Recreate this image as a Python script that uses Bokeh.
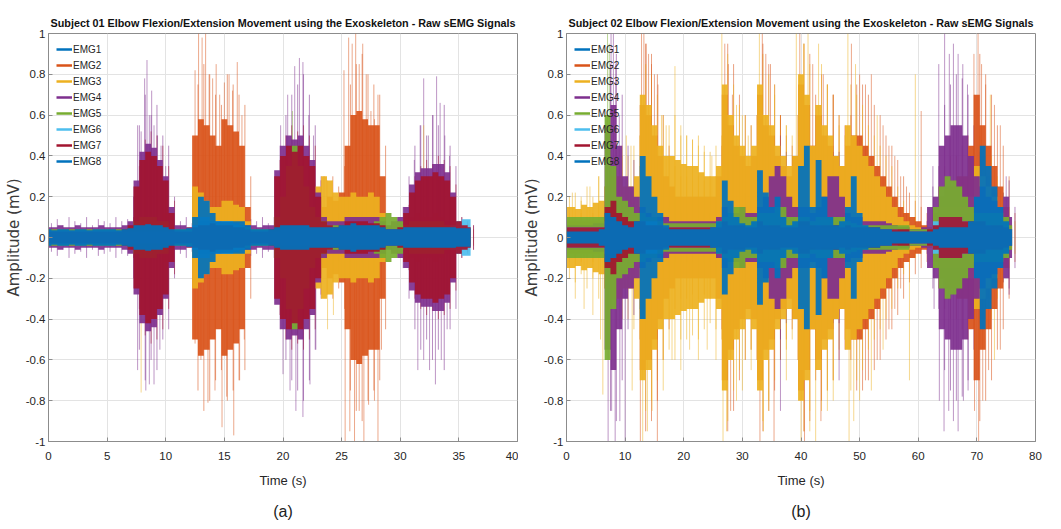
import numpy as np
from bokeh.plotting import figure
from bokeh.models import (Range1d, FixedTicker, CustomJSTickFormatter, Legend,
                          LegendItem, Title, ColumnDataSource)
from bokeh.layouts import row
from bokeh.embed import file_html
from bokeh.resources import INLINE

channels = ["EMG1", "EMG2", "EMG3", "EMG4", "EMG5", "EMG6", "EMG7", "EMG8"]
colors = ["#0072BD", "#D95319", "#EDB120", "#7E2F8E", "#77AC30", "#4DBEEE", "#A2142F", "#0072BD"]

y_ticks = [-1, -0.8, -0.6, -0.4, -0.2, 0, 0.2, 0.4, 0.6, 0.8, 1]
x_ticks_a = [0, 5, 10, 15, 20, 25, 30, 35, 40]
x_ticks_b = [0, 10, 20, 30, 40, 50, 60, 70, 80]

# ---------------- Subject 01 : dense-signal envelope (mV), every 0.5 s from 0 to 36 s
s1_step = 0.5
s1_emg1 = [.03,.03,.03,.03,.03,.03,.03,.03,.03,.03, .03,.03,.03,.03,.03,.05,.05,.05,.05,.05,
           .04,.03,.03,.03,.03,.08,.15,.14,.1,.07, .07,.07,.06,.06,.04,.03,.03,.03,.03,.04,
           .05,.05,.05,.05,.05,.04,.04,.04,.04,.04, .04,.05,.05,.05,.05,.05,.05,.04,.03,.03,
           .03,.03,.04,.04,.04,.04,.04,.04,.04,.04, .03,.03,.03]
s1_emg2 = [.02,.02,.02,.02,.02,.02,.02,.02,.02,.02, .02,.02,.02,.02,.03,.05,.06,.06,.06,.05,
           .05,.03,.02,.02,.03,.5,.58,.55,.5,.45, .58,.55,.52,.45,.15,.03,.02,.02,.02,.05,
           .08,.1,.12,.1,.1,.08,.1,.15,.2,.18, .22,.45,.6,.62,.58,.55,.55,.3,.05,.04,
           .04,.05,.06,.06,.06,.06,.06,.06,.05,.04, .03,.03,.03]
s1_emg3 = [.02,.02,.02,.02,.02,.02,.02,.02,.02,.02, .02,.02,.02,.02,.04,.08,.08,.1,.08,.08,
           .12,.05,.02,.02,.05,.25,.22,.18,.15,.15, .18,.18,.16,.15,.08,.03,.02,.02,.02,.05,
           .1,.1,.12,.1,.12,.1,.25,.3,.28,.22, .2,.2,.22,.2,.2,.22,.2,.12,.05,.04,
           .04,.06,.1,.12,.1,.1,.12,.1,.08,.05, .03,.03,.03]
s1_emg4 = [.05,.05,.06,.05,.05,.06,.05,.05,.05,.06, .05,.05,.05,.06,.08,.28,.42,.46,.44,.38,
           .3,.15,.06,.06,.05,.06,.08,.08,.08,.08, .07,.07,.07,.06,.06,.06,.05,.06,.06,.33,
           .45,.5,.48,.5,.45,.38,.22,.1,.08,.08, .08,.1,.1,.1,.1,.1,.1,.08,.06,.08,
           .1,.15,.26,.32,.34,.34,.36,.36,.32,.22, .08,.05,.05]
s1_emg5 = [.04,.04,.04,.04,.04,.04,.04,.04,.04,.04, .04,.04,.04,.04,.05,.08,.1,.1,.1,.08,
           .08,.04,.04,.04,.04,.05,.06,.06,.06,.06, .06,.06,.06,.06,.05,.04,.04,.04,.04,.1,
           .2,.35,.45,.35,.25,.15,.1,.08,.06,.06, .06,.06,.06,.06,.06,.06,.08,.1,.12,.1,
           .08,.06,.08,.08,.08,.08,.08,.08,.06,.05, .04,.04,.04]
s1_emg6 = [.03,.03,.03,.03,.03,.03,.03,.03,.03,.03, .03,.03,.03,.03,.03,.03,.03,.03,.03,.03,
           .03,.03,.03,.03,.03,.06,.1,.1,.08,.08, .08,.08,.07,.06,.04,.03,.03,.03,.03,.03,
           .04,.04,.04,.04,.04,.04,.04,.04,.04,.04, .04,.04,.04,.04,.04,.04,.04,.04,.04,.04,
           .04,.04,.04,.04,.04,.04,.05,.05,.05,.06, .08,.09,.09]
s1_emg7 = [.03,.03,.03,.03,.03,.03,.03,.03,.03,.03, .03,.03,.03,.04,.06,.25,.38,.42,.4,.35,
           .28,.12,.03,.03,.03,.05,.06,.06,.07,.06, .06,.06,.05,.05,.04,.03,.03,.03,.04,.3,
           .4,.45,.42,.45,.4,.35,.2,.08,.06,.05, .06,.08,.08,.08,.08,.07,.07,.06,.04,.04,
           .05,.12,.22,.28,.3,.3,.32,.3,.28,.2, .08,.06,.05]
s1_emg8 = [.04,.035,.04,.04,.035,.04,.04,.035,.04,.04, .04,.04,.035,.04,.045,.06,.06,.065,.06,.06,
           .05,.04,.04,.04,.045,.1,.2,.18,.12,.08, .08,.08,.08,.08,.06,.04,.04,.04,.04,.05,
           .06,.06,.06,.06,.06,.05,.05,.05,.05,.05, .06,.06,.07,.06,.06,.06,.06,.05,.04,.04,
           .04,.05,.05,.05,.05,.05,.05,.05,.05,.05, .045,.045,.045]

# spike heights between the envelope samples (mV) for the dominant channels
s1_peak = {
    2: [.03,.03,.03,.03,.03,.03,.03,.03,.03,.03, .03,.03,.03,.03,.04,.06,.08,.08,.07,.06,
        .06,.04,.03,.03,.05,.75,.85,.8,.7,.65, .8,.75,.7,.65,.3,.04,.03,.03,.03,.08,
        .12,.15,.18,.15,.15,.12,.18,.28,.3,.25, .35,.75,.85,.9,.8,.75,.7,.45,.07,.05,
        .05,.07,.08,.1,.08,.08,.1,.08,.07,.05, .04,.04,.04],
    4: [.07,.09,.06,.1,.08,.07,.1,.06,.09,.08, .07,.1,.08,.09,.2,.55,.7,.6,.65,.5,
        .45,.2,.08,.1,.07,.08,.1,.09,.1,.08, .09,.08,.1,.07,.09,.08,.1,.07,.1,.45,
        .6,.7,.75,.8,.7,.55,.3,.15,.1,.12, .1,.12,.1,.12,.1,.12,.1,.1,.08,.1,
        .15,.3,.45,.55,.5,.6,.55,.65,.45,.35, .1,.07,.06],
    7: [.04,.04,.04,.04,.04,.04,.04,.04,.04,.04, .04,.04,.04,.05,.1,.35,.48,.52,.5,.45,
        .35,.18,.04,.04,.04,.07,.08,.08,.09,.08, .08,.08,.07,.07,.05,.04,.04,.04,.05,.38,
        .5,.55,.52,.55,.5,.45,.28,.1,.08,.07, .08,.1,.1,.1,.1,.09,.09,.08,.05,.05,
        .07,.16,.3,.35,.38,.36,.4,.38,.35,.26, .1,.08,.06],
}

# individual tall spikes of subject 01 (time s, amplitude mV, channel number)
s1_spike_t = [7.6, 7.9, 8.2, 8.4, 8.6, 8.8, 9.0, 9.3, 9.6, 10.0, 7.6, 7.9, 8.3, 8.6, 9.0, 9.5,
              12.5, 12.8, 13.1, 13.4, 13.7, 14.0, 14.3, 14.6, 15.0, 15.4, 15.7, 16.1, 16.5,
              12.5, 13.0, 13.6, 14.2, 14.8, 15.2, 15.8, 16.3, 16.7,
              19.8, 20.4, 21.0, 21.4, 21.7, 22.2, 22.6, 20.8, 20.0, 20.6, 21.1, 21.7, 22.3, 22.8,
              23.5, 24.2, 23.8, 24.3,
              25.2, 25.6, 25.9, 26.2, 26.5, 26.8, 27.1, 27.5, 27.8, 28.1,
              25.3, 25.7, 26.1, 26.5, 26.9, 27.3, 27.8, 28.1, 28.4,
              31.2, 31.7, 32.0, 32.4, 32.8, 33.1, 33.4, 33.8, 34.2, 32.0,
              31.5, 32.0, 32.5, 33.0, 33.5, 34.0]
s1_spike_v = [.55, .52, .78, .87, .6, .72, .55, .5, .45, .35, -.65, -.76, -.75, -.72, -.72, -.55,
              .82, 1.0, .98, 1.0, .8, .78, .85, .7, .76, .8, .72, .86, .6,
              -.52, -.6, -.81, -.75, -.93, -.78, -.97, -.7, -.5,
              .55, .7, .84, .88, .86, .6, .5, .62, -.67, -.75, -.85, -.88, -.72, -.55,
              .3, .28, -.45, -.38,
              .82, .98, .95, 1.0, .85, .95, .8, .62, .58, .7,
              -1.0, -.95, -1.0, -.85, -1.0, -.82, -.8, -1.0, -.55,
              .38, .55, .78, .5, .6, .79, .66, .5, .4, .55,
              -.65, -.6, -.65, -.72, -.6, -.45]
s1_spike_ch = [4, 4, 4, 4, 4, 4, 4, 4, 4, 4, 4, 3, 4, 4, 4, 4,
               2, 2, 2, 2, 2, 2, 2, 2, 2, 2, 2, 2, 2,
               2, 2, 2, 2, 2, 2, 2, 2, 2,
               4, 4, 4, 4, 4, 4, 4, 5, 4, 4, 4, 4, 4, 4,
               2, 3, 3, 3,
               2, 2, 2, 2, 2, 2, 2, 2, 2, 2,
               2, 2, 2, 2, 2, 2, 2, 2, 2,
               4, 4, 4, 4, 4, 4, 4, 4, 4, 3,
               4, 4, 4, 4, 4, 4]

# ---------------- Subject 02 : dense-signal envelope (mV), every 1 s from 0 to 76 s
s2_step = 1.0
s2_emg1 = [.03,.03,.03,.03,.03,.03,.03,.1,.08,.07, .05,.05,.07,.35,.25,.18,.1,.05,.04,.04,
           .04,.04,.04,.04,.04,.04,.06,.25,.15,.08, .06,.05,.07,.3,.2,.14,.18,.08,.05,.07,
           .3,.4,.12,.33,.18,.08,.05,.07,.12,.25, .1,.05,.04,.04,.04,.03,.03,.03,.03,.03,
           .03,.03,.03,.03,.04,.04,.04,.04,.04,.07, .18,.4,.3,.22,.12,.07,.04]
s2_emg2 = [.08,.08,.08,.08,.08,.08,.08,.15,.15,.12, .1,.1,.12,.65,.6,.5,.4,.3,.25,.2,
           .2,.2,.2,.2,.2,.2,.3,.7,.55,.45, .4,.35,.4,.7,.55,.5,.4,.35,.3,.4,
           .75,.65,.45,.6,.5,.45,.4,.35,.45,.5, .5,.45,.4,.35,.3,.25,.2,.15,.12,.1,
           .08,.06,.05,.12,.2,.25,.25,.3,.3,.45, .7,.55,.45,.35,.25,.15,.06]
s2_emg3 = [.15,.15,.14,.16,.15,.17,.18,.25,.3,.3, .25,.25,.3,.7,.65,.55,.45,.4,.4,.38,
           .36,.35,.35,.32,.3,.3,.35,.75,.6,.5, .45,.4,.45,.75,.6,.55,.45,.4,.35,.4,
           .8,.7,.45,.65,.55,.5,.4,.35,.55,.5, .45,.4,.35,.3,.25,.2,.15,.1,.08,.06,
           .05,.04,.05,.1,.15,.15,.15,.15,.15,.2, .35,.3,.25,.2,.15,.1,.05]
s2_emg4 = [.06,.06,.06,.06,.06,.07,.07,.55,.65,.45, .3,.25,.2,.15,.12,.1,.1,.1,.08,.08,
           .08,.08,.08,.08,.08,.08,.1,.15,.12,.12, .15,.12,.12,.15,.2,.3,.35,.3,.2,.15,
           .15,.15,.12,.15,.2,.3,.3,.2,.12,.1, .1,.08,.08,.08,.08,.07,.06,.05,.05,.04,
           .04,.05,.15,.2,.45,.5,.55,.55,.5,.4, .3,.25,.2,.18,.15,.2,.1]
s2_emg5 = [.1,.1,.1,.1,.1,.1,.1,.6,.35,.2, .18,.15,.12,.12,.1,.1,.08,.07,.07,.07,
           .07,.07,.07,.07,.07,.07,.08,.1,.12,.15, .15,.1,.1,.12,.12,.12,.15,.15,.1,.1,
           .1,.1,.08,.1,.1,.1,.1,.1,.08,.07, .06,.06,.06,.06,.06,.06,.06,.06,.06,.04,
           .04,.04,.04,.15,.25,.3,.28,.25,.2,.15, .12,.12,.12,.12,.12,.1,.06]
s2_emg6 = [.05,.05,.05,.05,.05,.05,.05,.08,.08,.06, .06,.06,.06,.08,.08,.08,.06,.05,.05,.05,
           .05,.05,.05,.05,.05,.05,.05,.06,.06,.05, .05,.05,.05,.06,.06,.05,.05,.05,.05,.05,
           .06,.06,.05,.06,.05,.05,.05,.05,.05,.05, .04,.04,.04,.04,.04,.04,.04,.03,.03,.03,
           .03,.03,.03,.08,.1,.1,.1,.1,.08,.06, .06,.06,.06,.05,.05,.05,.04]
s2_emg7 = [.05,.05,.05,.05,.05,.05,.05,.15,.18,.12, .1,.08,.08,.08,.06,.06,.06,.05,.05,.05,
           .05,.05,.05,.05,.05,.05,.05,.08,.06,.06, .06,.05,.05,.08,.06,.06,.06,.05,.05,.05,
           .08,.08,.06,.06,.06,.06,.06,.05,.06,.05, .05,.05,.05,.05,.04,.04,.04,.04,.04,.03,
           .03,.03,.04,.06,.1,.1,.1,.1,.08,.08, .08,.08,.06,.06,.06,.05,.04]
s2_emg8 = [.03,.03,.03,.03,.03,.03,.04,.12,.1,.08, .06,.05,.08,.4,.3,.2,.12,.06,.04,.04,
           .04,.04,.04,.04,.04,.05,.08,.28,.18,.1, .07,.06,.08,.33,.22,.15,.2,.1,.06,.08,
           .35,.45,.15,.38,.2,.1,.06,.08,.15,.3, .12,.06,.05,.05,.04,.04,.03,.03,.03,.03,
           .03,.03,.03,.04,.05,.05,.05,.05,.05,.08, .2,.45,.35,.25,.15,.08,.04]

s2_peak = {
    2: [.12,.1,.12,.1,.12,.1,.12,.2,.2,.18, .15,.15,.2,.95,.9,.8,.6,.45,.35,.3,
        .3,.28,.3,.28,.3,.3,.45,.95,.85,.7, .6,.55,.6,.95,.85,.75,.6,.5,.45,.6,
        .95,.9,.7,.8,.75,.7,.6,.55,.6,.75, .75,.7,.65,.6,.5,.45,.38,.3,.22,.18,
        .15,.12,.1,.25,.35,.4,.4,.45,.5,.7, .9,.8,.7,.55,.45,.3,.12],
    3: [.2,.22,.18,.25,.2,.3,.25,.35,.45,.4, .4,.45,.5,.85,.8,.7,.6,.55,.6,.5,
        .5,.48,.5,.45,.42,.45,.5,.9,.75,.65, .6,.55,.6,.9,.8,.7,.6,.55,.5,.6,
        .95,.85,.65,.85,.75,.7,.55,.5,.75,.7, .65,.55,.5,.45,.4,.35,.25,.18,.12,.1,
        .08,.06,.08,.15,.2,.22,.2,.22,.2,.3, .5,.45,.4,.3,.22,.15,.08],
    4: [.08,.1,.08,.1,.08,.1,.1,.85,.9,.7, .45,.38,.3,.22,.18,.15,.15,.14,.12,.12,
        .12,.12,.12,.12,.12,.12,.15,.22,.18,.18, .22,.18,.18,.22,.3,.42,.5,.42,.3,.22,
        .22,.22,.18,.22,.3,.42,.42,.3,.18,.15, .15,.12,.12,.12,.12,.1,.09,.08,.07,.06,
        .06,.08,.25,.35,.65,.75,.8,.78,.7,.55, .42,.35,.3,.25,.22,.28,.15],
}

s2_spike_t = [1, 2.5, 4, 5.5, 1.5, 3, 4.5, 6.2, 5.8,
              7.0, 7.3, 7.6, 8.0, 8.4, 9.0, 9.5, 10.2, 11.0, 7.1, 7.7, 8.3, 9.1, 10.0, 11.2,
              12.8, 13.2, 13.6, 14.0, 14.5, 15.0, 15.6, 16.2, 17.0, 18.5, 19.5, 20.5, 21.5, 22.5, 23.5, 24.8,
              12.6, 13.0, 13.8, 14.6, 15.5, 16.5, 18.0, 19.5, 21.0, 22.5, 24.0, 25.5,
              26.5, 27.0, 27.6, 28.3, 29.0, 30.0, 31.0, 26.7, 27.3, 28.0, 29.0, 30.0, 31.5,
              32.9, 33.4, 34.0, 34.8, 35.5, 36.5, 37.5, 33.0, 33.6, 34.5, 35.4, 36.5, 37.5,
              39.2, 39.8, 40.5, 41.2, 42.0, 43.0, 43.8, 44.5, 45.5, 46.5,
              40.0, 40.6, 41.5, 42.5, 43.4, 44.5, 45.5, 46.5,
              48.0, 48.6, 49.3, 50.0, 51.0, 52.0, 53.0, 54.0, 55.0, 56.0, 57.0, 58.0, 59.5, 60.5,
              48.2, 49.0, 50.0, 51.0, 52.0, 53.0, 54.0, 55.0, 56.0, 57.0, 58.5,
              62.5, 63.5, 64.5, 65.3, 66.0, 66.8, 67.6, 68.4, 62.7, 63.6, 64.4, 65.2, 66.0, 66.8, 67.7, 68.5,
              69.5, 70.2, 70.8, 71.5, 72.3, 73.0, 74.0, 75.0, 69.6, 70.3, 71.0, 72.0, 73.0, 74.0, 75.5]
s2_spike_v = [.22, .2, .25, .3, -.3, -.35, -.38, -.77, -.5,
              1.0, .95, 1.0, 1.0, .85, .6, .45, .5, .45, -1.0, -.85, -1.0, -.9, -1.0, -.75,
              1.0, 1.0, .95, .9, .85, .8, .75, .6, .55, .84, .55, .5, .48, .45, .42, .4,
              -1.0, -1.0, -.95, -.85, -1.0, -.75, -.6, -.65, -.55, -.6, -.55, -.6,
              1.0, .95, .85, .7, .65, .6, .5, -1.0, -.95, -.85, -.8, -.75, -.65,
              1.0, 1.0, .9, .85, .75, .6, .55, -1.0, -.95, -.85, -1.0, -.85, -.7,
              1.0, 1.0, .95, 1.0, .85, .95, .8, .75, .7, .6,
              -1.0, -1.0, -.95, -1.0, -.9, -.85, -.8, -.7,
              1.0, .95, .85, .8, .75, .8, .6, .55, .45, .4, .3, .25, .8, .62,
              -1.0, -.9, -.8, -.7, -.75, -.6, -.55, -.45, -.35, -.25, -.7,
              .35, .85, 1.0, .9, .95, .9, .85, .75, -.35, -.8, -.95, -.85, -.9, -.95, -.8, -.75,
              .9, 1.0, .85, .75, .7, .65, .55, .3, -.85, -1.0, -.8, -.65, -.6, -.55, -.25]
s2_spike_ch = [3, 3, 3, 3, 3, 3, 3, 3, 3,
               5, 5, 4, 4, 4, 4, 3, 3, 3, 4, 4, 4, 4, 4, 3,
               2, 2, 2, 2, 2, 2, 2, 3, 3, 3, 3, 3, 3, 3, 3, 3,
               2, 3, 3, 3, 2, 3, 3, 3, 3, 3, 3, 3,
               3, 2, 2, 2, 3, 3, 3, 3, 3, 2, 3, 3, 3,
               3, 2, 2, 2, 3, 2, 3, 2, 3, 3, 2, 4, 3,
               3, 2, 3, 3, 2, 3, 2, 3, 2, 3,
               3, 2, 3, 3, 2, 3, 3, 4,
               3, 2, 3, 2, 2, 2, 3, 2, 2, 2, 2, 2, 3, 2,
               3, 3, 3, 2, 3, 2, 3, 2, 2, 2, 3,
               4, 4, 4, 4, 4, 4, 4, 4, 4, 4, 4, 4, 4, 4, 4, 4,
               2, 2, 2, 2, 3, 2, 2, 4, 2, 2, 2, 2, 3, 2, 4]

SANS = "'Liberation Sans', Arial, sans-serif"


def make_panel(width, border_left, border_right, title, step, bodies, peaks, sp_t, sp_v, sp_c,
               xmax, xticks, caption):
    p = figure(width=width, height=529, output_backend="svg", toolbar_location=None,
               x_range=Range1d(0, xmax), y_range=Range1d(-1, 1),
               min_border_left=border_left, min_border_right=border_right,
               min_border_top=33, min_border_bottom=87)
    p.background_fill_color = "white"
    p.border_fill_color = "white"
    p.outline_line_color = "#8c8c8c"
    p.outline_line_width = 1

    p.title.text = title
    p.title.align = "center"
    p.title.text_font = SANS
    p.title.text_font_size = "10.8px"
    p.title.text_font_style = "bold"
    p.title.text_color = "#111111"
    p.title.standoff = 9

    n = len(bodies[0])
    t = np.arange(n) * step

    # spikes between samples of the dominant channels (faint, behind the bodies)
    for ch, pk in peaks.items():
        p.segment(x0=t + step / 2, y0=[-v for v in pk], x1=t + step / 2, y1=pk,
                  line_color=colors[ch - 1], line_alpha=0.55, line_width=1)

    # individual tall spikes
    src = ColumnDataSource(dict(x=sp_t, y0=[0] * len(sp_t), y1=sp_v,
                                c=[colors[k - 1] for k in sp_c]))
    p.segment(x0="x", y0="y0", x1="x", y1="y1", line_color="c", line_alpha=0.5,
              line_width=1, source=src)

    # dense parts of the signals, EMG1 first, EMG8 on top
    for i, b in enumerate(bodies):
        p.varea_step(x=t, y1=[-v for v in b], y2=b, step_mode="center",
                     fill_color=colors[i], fill_alpha=0.92)

    # legend
    items = []
    for i, name in enumerate(channels):
        r = p.line(x=[np.nan, np.nan], y=[np.nan, np.nan], line_color=colors[i], line_width=2.5)
        items.append(LegendItem(label=name, renderers=[r]))
    leg = Legend(items=items, location="top_left", margin=0, padding=8, spacing=0,
                 glyph_width=16, glyph_height=16, label_height=16, label_standoff=1,
                 label_text_font=SANS, label_text_font_size="10px",
                 label_text_color="#262626",
                 border_line_alpha=0, background_fill_alpha=0)
    p.add_layout(leg)

    p.xaxis.ticker = FixedTicker(ticks=xticks)
    p.yaxis.ticker = FixedTicker(ticks=y_ticks)
    p.yaxis.formatter = CustomJSTickFormatter(
        code="var s = tick.toFixed(1); return s.replace(/\\.0$/, '');")
    for ax in (p.xaxis, p.yaxis):
        ax.major_tick_in = 4
        ax.major_tick_out = 0
        ax.minor_tick_line_color = None
        ax.axis_line_color = "#8c8c8c"
        ax.major_tick_line_color = "#8c8c8c"
        ax.major_label_text_font = SANS
        ax.major_label_text_font_size = "11.5px"
        ax.major_label_text_color = "#262626"
    p.xaxis.major_label_standoff = 10
    p.yaxis.major_label_standoff = 3
    p.xaxis.axis_label = "Time (s)"
    p.xaxis.axis_label_text_font = SANS
    p.xaxis.axis_label_text_font_size = "13px"
    p.xaxis.axis_label_text_font_style = "normal"
    p.xaxis.axis_label_text_color = "#262626"
    p.xaxis.axis_label_standoff = 10
    p.yaxis.axis_label = "Amplitude (mV)"
    p.yaxis.axis_label_text_font = "DejaVu Sans"
    p.yaxis.axis_label_text_font_size = "15px"
    p.yaxis.axis_label_text_font_style = "normal"
    p.yaxis.axis_label_text_color = "#3a3a3a"
    p.yaxis.axis_label_standoff = 0

    p.xgrid.ticker = FixedTicker(ticks=xticks)
    p.ygrid.ticker = FixedTicker(ticks=y_ticks)
    p.grid.grid_line_color = "#e3e3e3"
    p.grid.grid_line_width = 1

    cap = Title(text=caption, align="center", text_font=SANS,
                text_font_size="16px", text_font_style="normal", text_color="#222222",
                standoff=20)
    p.add_layout(cap, "below")
    return p


pa = make_panel(518, 48, 1,
                "Subject 01 Elbow Flexion/Extension Movement using the Exoskeleton - Raw sEMG Signals",
                s1_step, [s1_emg1, s1_emg2, s1_emg3, s1_emg4, s1_emg5, s1_emg6, s1_emg7, s1_emg8],
                s1_peak, s1_spike_t, s1_spike_v, s1_spike_ch, 40, x_ticks_a, "(a)")
pb = make_panel(543, 48, 26,
                "Subject 02 Elbow Flexion/Extension Movement using the Exoskeleton - Raw sEMG Signals",
                s2_step, [s2_emg1, s2_emg2, s2_emg3, s2_emg4, s2_emg5, s2_emg6, s2_emg7, s2_emg8],
                s2_peak, s2_spike_t, s2_spike_v, s2_spike_ch, 80, x_ticks_b, "(b)")

layout = row(pa, pb)
open("out.html", "w").write(file_html(layout, INLINE))
